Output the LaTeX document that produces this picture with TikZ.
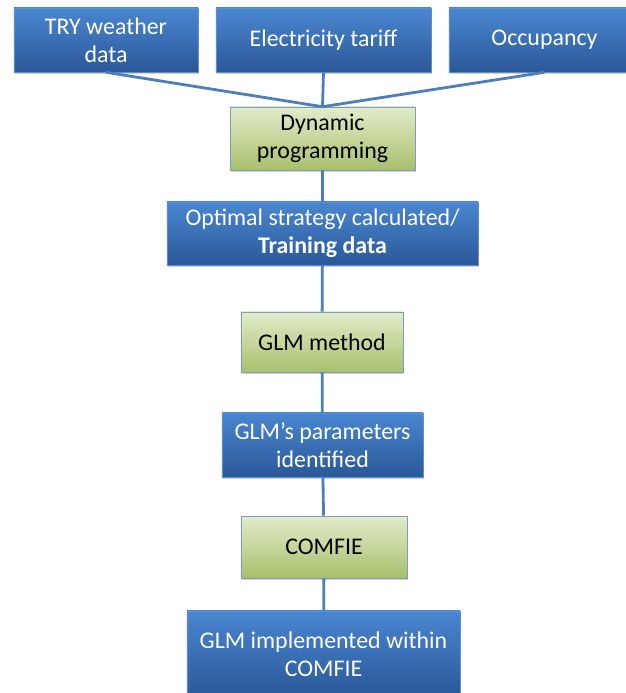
\documentclass[tikz,border=0pt]{standalone}
\usepackage{fontspec}
\setmainfont{Carlito}
\usepackage{tikz}
\definecolor{colorBlueTop}{HTML}{4A86D0}
\definecolor{colorBlueBot}{HTML}{2A5898}
\definecolor{colorBlueEdge}{HTML}{5C8FCF}
\definecolor{colorGreenTop}{HTML}{E2ECCB}
\definecolor{colorGreenBot}{HTML}{A7C06C}
\definecolor{colorGreenEdge}{HTML}{7E9CC2}
\definecolor{colorLink}{HTML}{4F7FBA}
\usetikzlibrary{positioning}
\usetikzlibrary{shadows}
\tikzset{
   every node/.style={font=\fontsize{17}{20}\selectfont, align=center, inner sep=2pt},
   data/.style={rectangle, draw=colorBlueEdge, thin, top color=colorBlueTop, bottom color=colorBlueBot,
                text=white, drop shadow={opacity=0.35,shadow xshift=0.8pt,shadow yshift=-1.2pt}},
   method/.style={rectangle, draw=colorGreenEdge, thin, top color=colorGreenTop, bottom color=colorGreenBot,
                text=black, drop shadow={opacity=0.35,shadow xshift=0.8pt,shadow yshift=-1.2pt}},
   link/.style={-,color=colorLink,line width=2pt},
}
\begin{document}
\begin{tikzpicture}[x=0.025cm,y=-0.025cm]

        \useasboundingbox (0,0) rectangle (626,693);

        \node[data, minimum width=4.6cm, minimum height=1.6cm]   (try)    at (106,   40) {TRY weather\\data};
        \node[data, minimum width=5.375cm, minimum height=1.6cm] (tariff) at (323.5, 40) {Electricity tariff};
        \node[data, minimum width=4.775cm, minimum height=1.6cm] (occ)    at (544.5, 40) {Occupancy};

        \node[method, minimum width=4.625cm, minimum height=1.575cm] (dynprog) at (322.5, 138.5) {Dynamic\\programming};
        \node[data, minimum width=7.775cm, minimum height=1.575cm]   (optimal) at (322.5, 233.5) {Optimal strategy calculated/\\\textbf{Training data}};

        \node[method, minimum width=4.05cm, minimum height=1.5cm] (glm)    at (322, 342) {GLM method};
        \node[data, minimum width=5.025cm, minimum height=1.6cm]  (params) at (322.5, 445) {GLM’s parameters\\identified};

        \node[method, minimum width=4.15cm, minimum height=1.55cm] (comfie) at (324, 547) {COMFIE};
        \node[data, minimum width=6.825cm, minimum height=2.15cm]  (impl)   at (323.5, 654) {GLM implemented within\\COMFIE};

        \draw[link] (try.south)    edge (dynprog.north);
        \draw[link] (tariff.south) edge (dynprog.north);
        \draw[link] (occ.south)    edge (dynprog.north);

        \draw[link] (dynprog) edge (optimal);
        \draw[link] (optimal) edge (glm);
        \draw[link] (glm)     edge (params);
        \draw[link] (params)  edge (comfie);
        \draw[link] (comfie)  edge (impl);

\end{tikzpicture}
\end{document}
